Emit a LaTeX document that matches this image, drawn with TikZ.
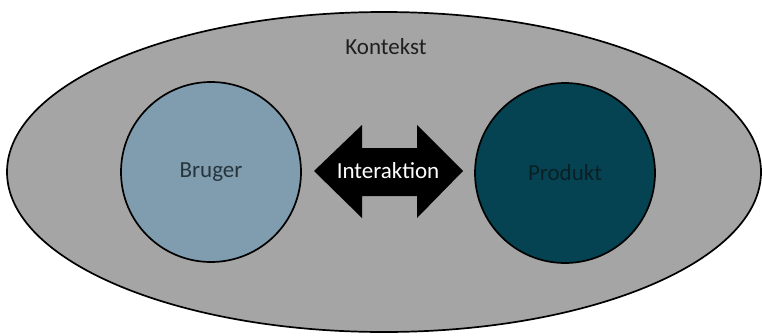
\documentclass[tikz,border=0pt]{standalone}
\usepackage{fontspec}
\setmainfont{Carlito}
\definecolor{ctxgray}{HTML}{A5A5A5}
\definecolor{brugerc}{HTML}{7F9DAF}
\definecolor{produktc}{HTML}{054352}
\definecolor{produkttxt}{HTML}{0B1F26}
\definecolor{brugertxt}{HTML}{26343C}
\tikzset{
  lbl/.style={font=\fontsize{23}{26}\selectfont, inner sep=0pt},
  circ/.style={draw=black, line width=1.7pt, circle, minimum size=180pt, inner sep=0pt},
}
\begin{document}
\begin{tikzpicture}[x=1pt,y=-1pt]
\useasboundingbox (0,0) rectangle (762,335);
\fill[white] (0,0) rectangle (762,335);
\draw[fill=ctxgray, line width=1.7pt] (384,172) ellipse [x radius=377, y radius=160];
\node[lbl, text=black!88] (kontekst) at (386,47) {Kontekst};
\node[circ, fill=brugerc] (bruger) at (211,172) {};
\node[lbl, text=brugertxt] at (bruger.center) {Bruger};
\node[circ, fill=produktc] (produkt) at (565,173) {};
\node[lbl, text=produkttxt] at (produkt.center) {Produkt};
\fill[black] (314,171) -- (362,125) -- (362,148) -- (417,148) -- (417,125) -- (463,171)
  -- (417,218) -- (417,196) -- (362,196) -- (362,218) -- cycle;
\node[lbl, text=white] (inter) at (388,171) {Interaktion};
\end{tikzpicture}
\end{document}
